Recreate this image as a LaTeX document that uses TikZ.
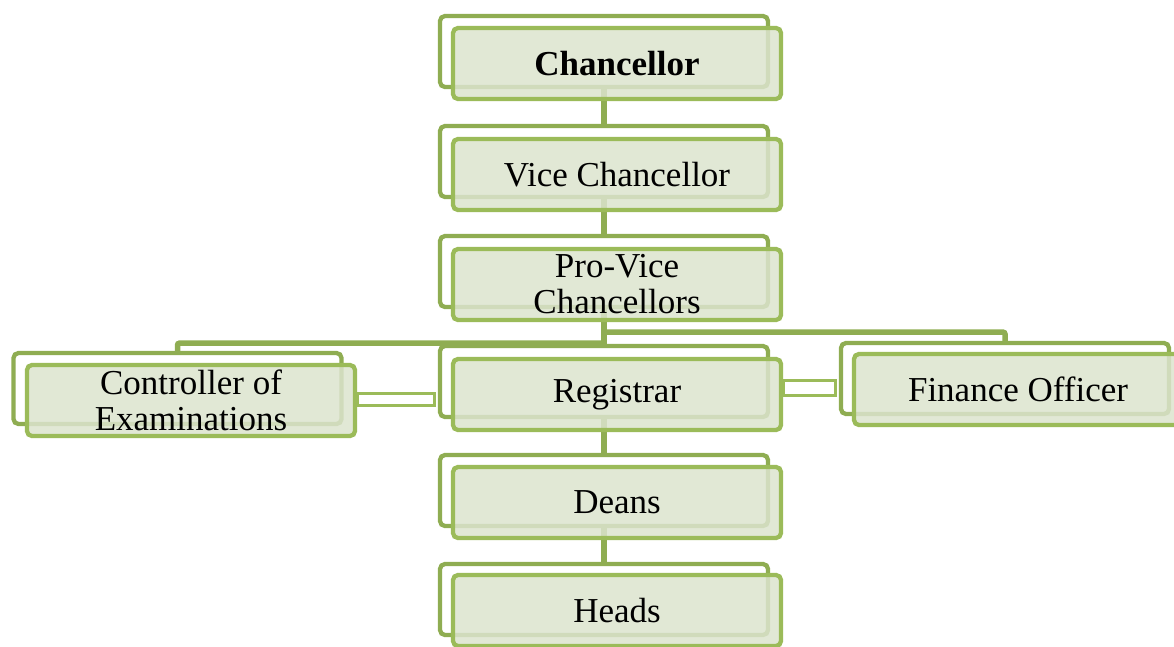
\documentclass[tikz,border=0pt]{standalone}
\usepackage{fontspec}
\setmainfont{Liberation Serif}
\usetikzlibrary{calc}
\definecolor{frontline}{HTML}{9BBB59}
\definecolor{backline}{HTML}{8FAD52}
\definecolor{frontfill}{RGB}{220,228,206}
\pgfdeclarelayer{background}
\pgfsetlayers{background,main}
\begin{document}
\begin{tikzpicture}[x=1pt,y=-1pt,
  front/.style={draw=frontline, line width=4.3pt, fill=frontfill, fill opacity=0.85, text opacity=1,
    rounded corners=5pt, minimum width=328pt, minimum height=71pt, inner sep=0pt, align=center,
    font=\fontsize{35}{36}\selectfont},
  back/.style={draw=backline, line width=4.3pt, fill=white, rounded corners=5pt,
    minimum width=328pt, minimum height=71pt, inner sep=0pt},
  conn/.style={draw=backline, line width=5.5pt},
  bar/.style={draw=frontline, line width=3.2pt, fill=white}]
\useasboundingbox (0,0) rectangle (1174,646);
\clip (0,0) rectangle (1174,646);
\begin{pgfonlayer}{background}
\node[back] (chB) at (604,51.5) {};
\node[back] (vcB) at (604,161.5) {};
\node[back] (pvB) at (604,271.5) {};
\node[back] (rgB) at (604,381.5) {};
\node[back] (cxB) at (177.5,388.5) {};
\node[back] (fnB) at (1005,378.5) {};
\node[back] (dnB) at (604,490.5) {};
\node[back] (hdB) at (604,599.5) {};
\draw[conn] (chB.south) -- (vcB.north);
\draw[conn] (vcB.south) -- (pvB.north);
\draw[conn] (pvB.south) -- (rgB.north);
\draw[conn, rounded corners=2pt] (pvB.south) -- ++(0,23) -| (fnB.north);
\draw[conn, rounded corners=2pt] (pvB.south) -- ++(0,34) -| (cxB.north);
\draw[conn] (rgB.south) -- (dnB.north);
\draw[conn] (dnB.south) -- (hdB.north);
\end{pgfonlayer}
\node[front] (chF) at (617,63.5) {\textbf{Chancellor}};
\node[front] (vcF) at (617,174.5) {Vice Chancellor};
\node[front] (pvF) at (617,284.5) {Pro-Vice\\Chancellors};
\node[front] (rgF) at (617,394.5) {Registrar};
\node[front] (cxF) at (191,400.5) {Controller of\\Examinations};
\node[front] (fnF) at (1018,389.5) {Finance Officer};
\node[front] (dnF) at (617,502.5) {Deans};
\node[front] (hdF) at (617,610.5) {Heads};
\begin{pgfonlayer}{background}
\draw[bar] ($(cxF.east)+(0,-7.25)$) rectangle ($(rgB.west |- cxF.east)+(-3,5.25)$);
\draw[bar] ($(rgF.east)+(0,-14.25)$) rectangle ($(fnB.west |- rgF.east)+(-3,1.25)$);
\end{pgfonlayer}
\end{tikzpicture}
\end{document}
